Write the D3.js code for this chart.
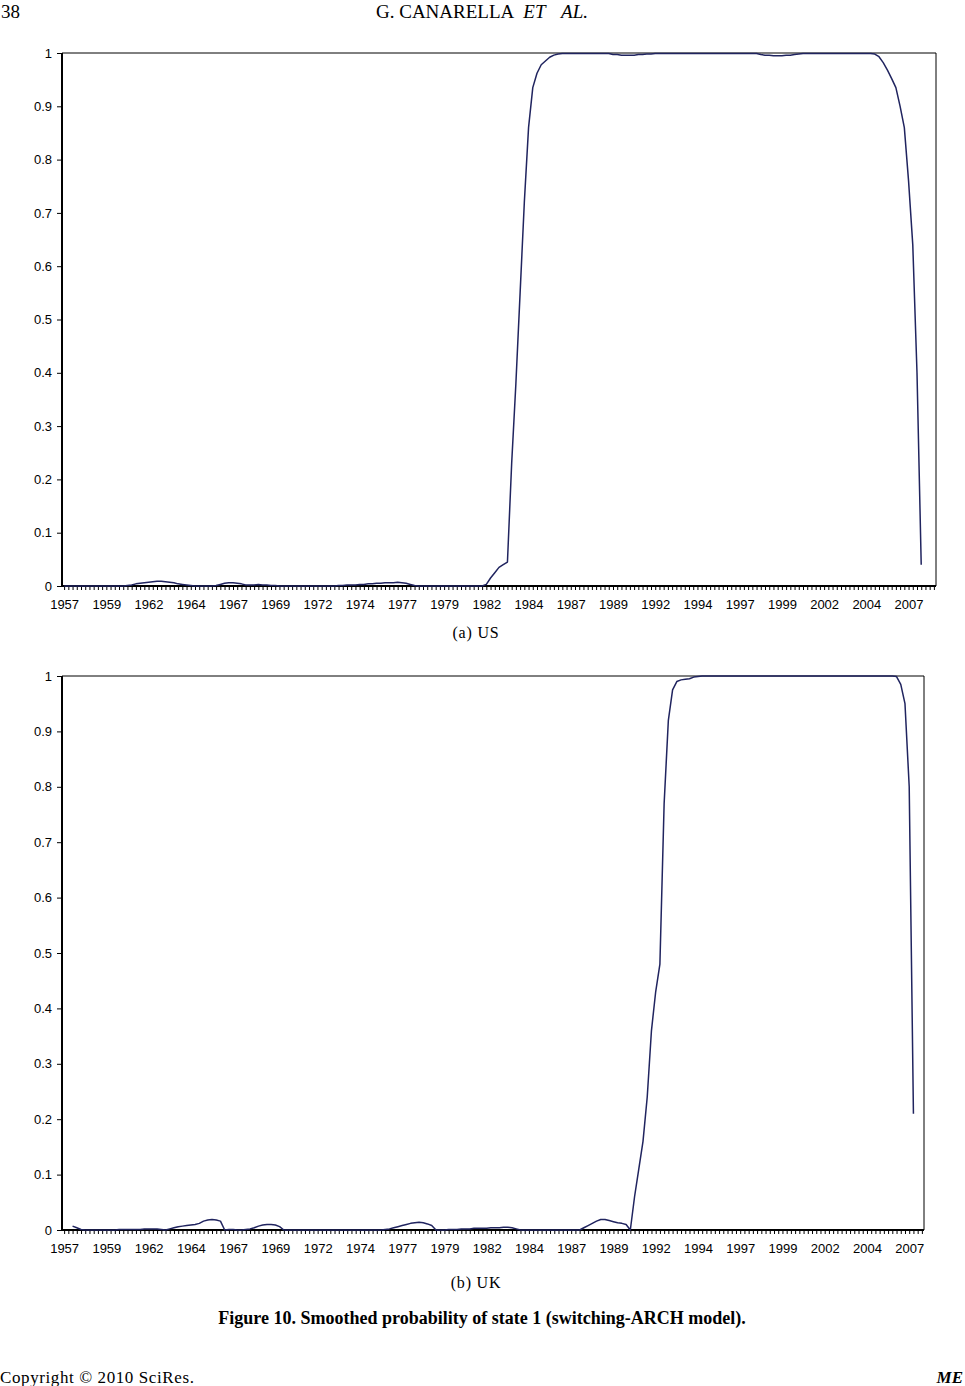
<!DOCTYPE html>
<html>
<head>
<meta charset="utf-8">
<script src="https://cdn.jsdelivr.net/npm/d3@7"></script>
<style>
  body { margin: 0; background: #fff; }
  .tick text { font-family: "Liberation Sans", Arial, sans-serif; font-size: 13px; fill: #000; }
  .serif { font-family: "Liberation Serif", "Times New Roman", serif; fill: #000; }
</style>
</head>
<body>
<svg id="page" width="965" height="1386"></svg>
<script>
// quarterly data, first quarter on both axes is 1957Q1
const yearLabels = ["1957", "1959", "1962", "1964", "1967", "1969", "1972", "1974", "1977", "1979",
  "1982", "1984", "1987", "1989", "1992", "1994", "1997", "1999", "2002", "2004", "2007"];
const yTicks = [0, 0.1, 0.2, 0.3, 0.4, 0.5, 0.6, 0.7, 0.8, 0.9, 1];

// US: axis 1957Q1-2008Q3, data 1957Q1-2007Q4
const usAxisObs = 207;
const usStart = 0;
const usProb = [
  0, 0, 0, 0, 0, 0, 0, 0, 0, 0, 0, 0, 0, 0, 0,
  0.001, 0.002, 0.004, 0.005, 0.006, 0.007, 0.008, 0.009, 0.009, 0.008, 0.007, 0.006, 0.004, 0.003, 0.002, 0.001,
  0, 0, 0, 0, 0,
  0.001, 0.003, 0.005, 0.006, 0.006, 0.005, 0.004, 0.002, 0.002,
  0.002, 0.003, 0.002, 0.002, 0.001, 0.001,
  0, 0, 0, 0, 0, 0, 0, 0, 0, 0, 0, 0, 0, 0,
  0.001, 0.001, 0.002, 0.002, 0.002, 0.003, 0.003, 0.004, 0.004, 0.005, 0.005, 0.006, 0.006, 0.006, 0.007, 0.006, 0.005, 0.003, 0.001, 0,
  0, 0, 0, 0, 0, 0, 0, 0, 0, 0, 0, 0, 0, 0, 0,
  0.003, 0.015, 0.025, 0.035, 0.040, 0.045, 0.23, 0.38, 0.55, 0.72, 0.86, 0.935, 0.962, 0.978, 0.985, 0.992, 0.996, 0.998,
  0.999, 0.999, 0.999, 0.999, 0.999, 0.999, 0.999, 0.999, 0.999, 0.999, 0.999, 0.999,
  0.997, 0.997, 0.996, 0.996, 0.996, 0.996, 0.997, 0.997, 0.998, 0.998, 0.999,
  0.999, 0.999, 0.999, 0.999, 0.999, 0.999, 0.999, 0.999, 0.999, 0.999, 0.999, 0.999, 0.999,
  0.999, 0.999, 0.999, 0.999, 0.999, 0.999, 0.999, 0.999, 0.999, 0.999, 0.999,
  0.997, 0.996, 0.996, 0.995, 0.995, 0.995, 0.996, 0.996, 0.997, 0.998, 0.999,
  0.999, 0.999, 0.999, 0.999, 0.999, 0.999, 0.999, 0.999, 0.999, 0.999, 0.999, 0.999, 0.999, 0.999, 0.999, 0.999,
  0.998, 0.993, 0.982, 0.968, 0.952, 0.935, 0.90, 0.86, 0.76, 0.64, 0.40, 0.04
];

// UK: axis 1957Q1-2007Q4, data 1957Q3-2007Q2
const ukAxisObs = 204;
const ukStart = 2;
const ukProb = [
  0.007, 0.004, 0.001,
  0, 0, 0, 0, 0, 0, 0, 0,
  0.001, 0.001, 0.001, 0.001, 0.001, 0.001, 0.002, 0.002, 0.002, 0.002, 0.001,
  0,
  0.002, 0.004, 0.006, 0.007, 0.008, 0.009, 0.010, 0.012, 0.016, 0.018, 0.019, 0.018, 0.016,
  0, 0.001, 0.001, 0, 0, 0.001,
  0.002, 0.004, 0.007, 0.009, 0.010, 0.010, 0.009, 0.006, 0,
  0, 0, 0, 0, 0, 0, 0, 0, 0, 0, 0, 0, 0, 0, 0, 0, 0, 0, 0, 0, 0, 0, 0,
  0.001, 0.002, 0.004, 0.006, 0.008, 0.010, 0.012, 0.013, 0.014, 0.013, 0.011, 0.008, 0,
  0, 0, 0.001, 0.001, 0.001, 0.002, 0.002, 0.002, 0.003, 0.003, 0.003, 0.003, 0.004, 0.004, 0.004, 0.005, 0.005, 0.004, 0.002, 0,
  0, 0, 0, 0, 0, 0, 0, 0, 0, 0, 0, 0, 0, 0,
  0.004, 0.008, 0.012, 0.016, 0.019, 0.019, 0.017, 0.015, 0.013, 0.012, 0.010, 0,
  0.06, 0.11, 0.16, 0.24, 0.36, 0.43, 0.48, 0.77, 0.92, 0.975, 0.99, 0.993, 0.994, 0.995, 0.998, 0.999,
  1, 1, 1, 1, 1, 1, 1, 1, 1, 1, 1, 1, 1, 1, 1, 1, 1, 1, 1, 1, 1, 1, 1,
  1, 1, 1, 1, 1, 1, 1, 1, 1, 1, 1, 1, 1, 1, 1, 1, 1, 1, 1, 1, 1, 1, 1,
  0.999, 0.985, 0.95, 0.80, 0.21
];

const svg = d3.select('#page');
svg.append('rect').attr('width', 965).attr('height', 1386).attr('fill', '#fff');

function drawPanel(box, nObs, start, values) {
  const x = d3.scaleLinear().domain([-0.5, nObs - 0.5]).range([box.left, box.right]);
  const y = d3.scaleLinear().domain([0, 1]).range([box.bottom, box.top]);
  const g = svg.append('g');

  const yAxis = d3.axisLeft(y)
    .tickValues(yTicks)
    .tickSize(5)
    .tickPadding(5)
    .tickFormat(d3.format('~g'));
  g.append('g')
    .attr('transform', 'translate(' + box.left + ',0)')
    .call(yAxis)
    .call(a => a.select('.domain').remove());

  const xAxis = d3.axisBottom(x)
    .tickValues(d3.range(nObs))
    .tickSize(4)
    .tickPadding(10)
    .tickFormat(i => (i % 10 === 0 ? yearLabels[i / 10] || '' : ''));
  g.append('g')
    .attr('transform', 'translate(0,' + box.bottom + ')')
    .call(xAxis)
    .call(a => a.select('.domain').remove());

  g.selectAll('.tick line').attr('stroke', '#000');

  // frame: thin top and right, heavy left and bottom
  g.append('path')
    .attr('d', 'M' + box.left + ',' + box.top + 'H' + box.right + 'V' + box.bottom)
    .attr('fill', 'none').attr('stroke', '#000').attr('stroke-width', 1);
  g.append('path')
    .attr('d', 'M' + box.left + ',' + box.top + 'V' + box.bottom + 'H' + box.right)
    .attr('fill', 'none').attr('stroke', '#000').attr('stroke-width', 2);

  const line = d3.line()
    .x((d, i) => x(start + i))
    .y(d => y(d));
  g.append('path')
    .datum(values)
    .attr('fill', 'none')
    .attr('stroke', '#20245f')
    .attr('stroke-width', 1.5)
    .attr('stroke-linejoin', 'round')
    .attr('d', line);
}

drawPanel({ left: 62, right: 936, top: 53, bottom: 586 }, usAxisObs, usStart, usProb);
drawPanel({ left: 62, right: 924, top: 676, bottom: 1230 }, ukAxisObs, ukStart, ukProb);

// page text
svg.append('text').attr('class', 'serif').attr('x', 1).attr('y', 18)
  .style('font-size', '19px').text('38');
const head = svg.append('text').attr('class', 'serif').attr('x', 376).attr('y', 18)
  .style('font-size', '19px');
head.append('tspan').text('G. CANARELLA');
head.append('tspan').attr('dx', 9).style('font-style', 'italic').text('ET');
head.append('tspan').attr('dx', 17).style('font-style', 'italic').text('AL.');

svg.append('text').attr('class', 'serif').attr('x', 476).attr('y', 638)
  .attr('text-anchor', 'middle').style('font-size', '16px').style('letter-spacing', '0.8px').text('(a) US');
svg.append('text').attr('class', 'serif').attr('x', 476).attr('y', 1288)
  .attr('text-anchor', 'middle').style('font-size', '16px').style('letter-spacing', '0.8px').text('(b) UK');
svg.append('text').attr('class', 'serif').attr('x', 482).attr('y', 1324)
  .attr('text-anchor', 'middle').style('font-size', '18px').style('font-weight', 'bold')
  .text('Figure 10. Smoothed probability of state 1 (switching-ARCH model).');
svg.append('text').attr('class', 'serif').attr('x', 0).attr('y', 1383)
  .style('font-size', '17px').style('letter-spacing', '0.6px').text('Copyright \u00A9 2010 SciRes.');
svg.append('text').attr('class', 'serif').attr('x', 963).attr('y', 1383)
  .attr('text-anchor', 'end').style('font-size', '17px')
  .style('font-weight', 'bold').style('font-style', 'italic').text('ME');
</script>
</body>
</html>
